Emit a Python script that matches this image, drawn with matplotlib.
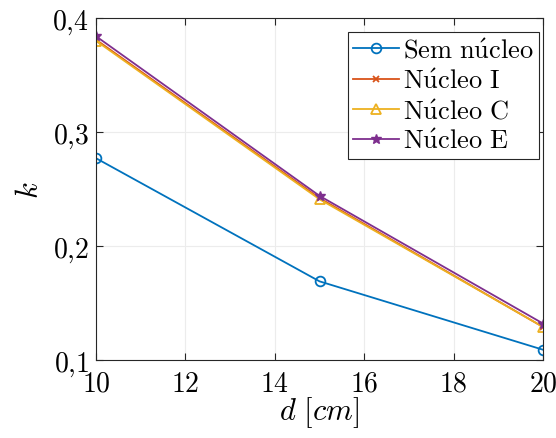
import matplotlib
matplotlib.use('Agg')
import matplotlib.pyplot as plt
from matplotlib.ticker import FuncFormatter

plt.rcParams['mathtext.fontset'] = 'cm'
plt.rcParams['font.family'] = ['DejaVu Serif']

# dados
d = [10, 15, 20]
k_sem = [0.277, 0.169, 0.109]
k_I = [0.381, 0.242, 0.129]
k_C = [0.380, 0.241, 0.129]
k_E = [0.384, 0.244, 0.132]
rotulos = [r'$\mathrm{Sem\ n\acute{u}cleo}$', r'$\mathrm{N\acute{u}cleo\ I}$',
           r'$\mathrm{N\acute{u}cleo\ C}$', r'$\mathrm{N\acute{u}cleo\ E}$']

cores = [(0, 0.447, 0.741), (0.85, 0.325, 0.098), (0.929, 0.694, 0.125), (0.494, 0.184, 0.556)]

fig = plt.figure(figsize=(5.56, 4.39), dpi=100)
ax = fig.add_axes([0.1727, 0.1777, 0.8039, 0.779])

ax.plot(d, k_sem, '-o', color=cores[0], mfc='none', ms=7, mew=1.3, lw=1.3, label=rotulos[0])
ax.plot(d, k_I, '-x', color=cores[1], ms=5, mew=1.3, lw=1.3, label=rotulos[1])
ax.plot(d, k_C, '-^', color=cores[2], mfc='none', ms=7, mew=1.3, lw=1.3, label=rotulos[2])
ax.plot(d, k_E, '-*', color=cores[3], ms=7, mew=1.0, lw=1.3, label=rotulos[3])

ax.set_xlim(10, 20)
ax.set_ylim(0.1, 0.4)
ax.set_xticks([10, 12, 14, 16, 18, 20])
ax.set_yticks([0.1, 0.2, 0.3, 0.4])
ax.xaxis.set_major_formatter(FuncFormatter(lambda v, p: r'$%d$' % v))
ax.yaxis.set_major_formatter(FuncFormatter(lambda v, p: (r'$%.1f$' % v).replace('.', '{,}')))
ax.tick_params(direction='in', top=True, right=True, labelsize=20, length=5,
               width=0.8, color='#262626')
ax.tick_params(axis='x', pad=7)
ax.tick_params(axis='y', pad=5)
ax.grid(True, color='#ececec', lw=0.8)
ax.set_axisbelow(True)
for s in ax.spines.values():
    s.set_color('#262626')
    s.set_linewidth(0.8)

ax.set_xlabel(r'$d\ [cm]$', fontsize=22, labelpad=-2)
ax.set_ylabel(r'$k$', fontsize=22, labelpad=5)

leg = ax.legend(loc='upper right', fontsize=19, fancybox=False, framealpha=1,
                edgecolor='#262626', borderpad=0.2, labelspacing=0.2,
                handlelength=1.75, handletextpad=0.15, borderaxespad=0.15,
                bbox_to_anchor=(1.0, 0.97))
leg.get_frame().set_linewidth(0.8)

fig.savefig('out.png', dpi=100)
